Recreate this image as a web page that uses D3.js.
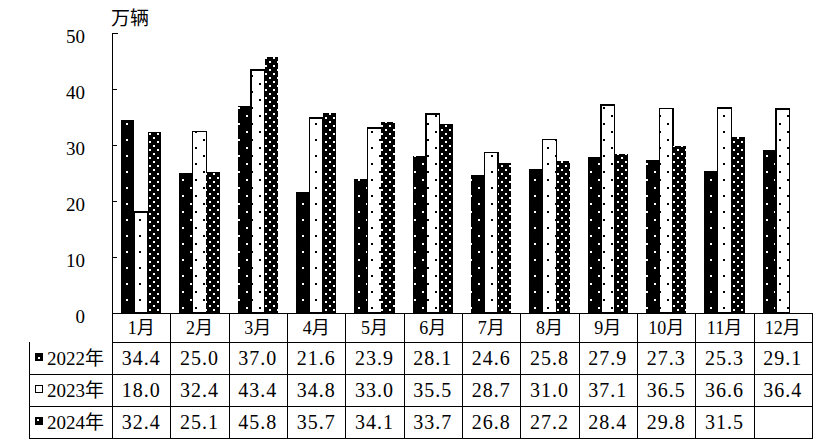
<!DOCTYPE html>
<html>
<head>
<meta charset="utf-8">
<script src="https://cdn.jsdelivr.net/npm/d3@7"></script>
<style>
  body { margin: 0; background: #fff; }
  text { font-family: "Liberation Serif", "Noto Sans CJK SC", serif; fill: #000; }
</style>
</head>
<body>
<svg id="chart" width="828" height="440"></svg>
<script>
// data
var months = ["1月","2月","3月","4月","5月","6月","7月","8月","9月","10月","11月","12月"];
var seriesNames = ["2022年","2023年","2024年"];
var v2022 = [34.4, 25.0, 37.0, 21.6, 23.9, 28.1, 24.6, 25.8, 27.9, 27.3, 25.3, 29.1];
var v2023 = [18.0, 32.4, 43.4, 34.8, 33.0, 35.5, 28.7, 31.0, 37.1, 36.5, 36.6, 36.4];
var v2024 = [32.4, 25.1, 45.8, 35.7, 34.1, 33.7, 26.8, 27.2, 28.4, 29.8, 31.5, null];
var yTicks = [0, 10, 20, 30, 40, 50];
var unitLabel = "万辆";

var allSeries = [v2022, v2023, v2024];

var svg = d3.select("#chart");

// layout
var plotLeft = 112, plotRight = 812, plotTop = 33, plotBase = 313;
var tableLeft = 29;
var rowLines = [313, 342, 374, 406, 438];

// patterns
var defs = svg.append("defs");

var p1 = defs.append("pattern").attr("id", "pat0")
    .attr("patternUnits", "userSpaceOnUse").attr("width", 16).attr("height", 16);
p1.append("rect").attr("width", 16).attr("height", 16).attr("fill", "#000");
p1.append("rect").attr("x", 6).attr("y", 3).attr("width", 2).attr("height", 2).attr("fill", "#fff");
p1.append("rect").attr("x", 14).attr("y", 11).attr("width", 2).attr("height", 2).attr("fill", "#fff");

var p2 = defs.append("pattern").attr("id", "pat1")
    .attr("patternUnits", "userSpaceOnUse").attr("width", 16).attr("height", 16);
p2.append("rect").attr("width", 16).attr("height", 16).attr("fill", "#fff");
p2.append("rect").attr("x", 3).attr("y", 3).attr("width", 2).attr("height", 2).attr("fill", "#000");
p2.append("rect").attr("x", 11).attr("y", 11).attr("width", 2).attr("height", 2).attr("fill", "#000");

var p3 = defs.append("pattern").attr("id", "pat2")
    .attr("patternUnits", "userSpaceOnUse").attr("width", 8).attr("height", 8);
p3.append("rect").attr("width", 8).attr("height", 8).attr("fill", "#000");
p3.append("rect").attr("x", 1).attr("y", 1).attr("width", 2).attr("height", 2).attr("fill", "#fff");
p3.append("rect").attr("x", 5).attr("y", 5).attr("width", 2).attr("height", 2).attr("fill", "#fff");

// scales
var x = d3.scaleBand()
    .domain(months)
    .range([plotLeft, plotRight])
    .padding(0);

var x1 = d3.scaleBand()
    .domain(seriesNames)
    .range([0, x.bandwidth()])
    .paddingInner(0)
    .paddingOuter(0.66);

var y = d3.scaleLinear()
    .domain([0, 50])
    .range([plotBase, plotTop]);

// bars
var groups = svg.append("g").selectAll("g")
    .data(allSeries)
    .enter().append("g");

groups.each(function(vals, si) {
    d3.select(this).selectAll("rect")
        .data(months.map(function(m, i) { return { m: m, v: vals[i] }; })
              .filter(function(d) { return d.v != null; }))
        .enter().append("rect")
            .attr("x", function(d) { return x(d.m) + x1(seriesNames[si]); })
            .attr("y", function(d) { return y(d.v); })
            .attr("width", x1.bandwidth())
            .attr("height", function(d) { return plotBase - y(d.v); })
            .attr("fill", "url(#pat" + si + ")")
            .attr("stroke", si == 1 ? "#000" : "none")
            .attr("stroke-width", 1.5)
            .attr("shape-rendering", "crispEdges");
});

// Y Axis
var yAxisCall = d3.axisRight(y)
    .tickValues(yTicks)
    .tickSize(5)
    .tickFormat("");
var yAxis = svg.append("g")
    .attr("transform", "translate(" + plotLeft + ",0)")
    .call(yAxisCall);
yAxis.select(".domain").attr("d", "M5.5," + plotTop + "H0.5V" + plotBase);
yAxis.selectAll("line").attr("stroke", "#000").attr("shape-rendering", "crispEdges");
yAxis.selectAll(".domain").attr("stroke", "#000").attr("shape-rendering", "crispEdges");

svg.append("g").selectAll("text")
    .data(yTicks)
    .enter().append("text")
        .attr("x", 85)
        .attr("y", function(d) { return y(d) + 10; })
        .attr("text-anchor", "end")
        .attr("font-size", "19px")
        .text(function(d) { return d; });

// unit label
svg.append("text")
    .attr("x", 111)
    .attr("y", 25)
    .attr("font-size", "19px")
    .text(unitLabel);

// table
var tbl = svg.append("g").attr("shape-rendering", "crispEdges");

// horizontal lines
tbl.selectAll("line.h")
    .data(rowLines)
    .enter().append("line")
        .attr("x1", function(d, i) { return i < 2 ? plotLeft : tableLeft; })
        .attr("x2", plotRight)
        .attr("y1", function(d) { return d + 0.5; })
        .attr("y2", function(d) { return d + 0.5; })
        .attr("stroke", "#000");

// vertical lines
var colEdges = months.map(function(m) { return x(m); }).concat([plotRight]);
tbl.selectAll("line.v")
    .data(colEdges)
    .enter().append("line")
        .attr("x1", function(d) { return Math.round(d) + 0.5; })
        .attr("x2", function(d) { return Math.round(d) + 0.5; })
        .attr("y1", plotBase)
        .attr("y2", rowLines[4] + 1)
        .attr("stroke", "#000");
tbl.append("line")
    .attr("x1", tableLeft + 0.5).attr("x2", tableLeft + 0.5)
    .attr("y1", rowLines[1]).attr("y2", rowLines[4] + 1)
    .attr("stroke", "#000");

// month labels
svg.append("g").selectAll("text")
    .data(months)
    .enter().append("text")
        .attr("x", function(d) { return x(d) + x.bandwidth() / 2; })
        .attr("y", 334)
        .attr("text-anchor", "middle")
        .attr("font-size", "18px")
        .text(function(d) { return d; });

// values
allSeries.forEach(function(vals, si) {
    var rowMid = (rowLines[si + 1] + rowLines[si + 2]) / 2;
    svg.append("g").selectAll("text")
        .data(months.map(function(m, i) { return { m: m, v: vals[i] }; })
              .filter(function(d) { return d.v != null; }))
        .enter().append("text")
            .attr("x", function(d) { return x(d.m) + x.bandwidth() / 2; })
            .attr("y", rowMid + 7)
            .attr("text-anchor", "middle")
            .attr("font-size", "20px")
            .attr("letter-spacing", "1px")
            .text(function(d) { return d.v.toFixed(1); });

    // legend marker
    svg.append("rect")
        .attr("x", 35.5).attr("y", rowMid - 4.5)
        .attr("width", 7).attr("height", 7)
        .attr("fill", si == 1 ? "#fff" : "#000")
        .attr("stroke", "#000")
        .attr("stroke-width", 1.2)
        .attr("shape-rendering", "crispEdges");
    if (si != 1) {
        svg.append("rect")
            .attr("x", si == 0 ? 38 : 37).attr("y", si == 0 ? rowMid - 1 : rowMid - 3)
            .attr("width", 2).attr("height", 2)
            .attr("fill", "#fff")
            .attr("shape-rendering", "crispEdges");
    }

    svg.append("text")
        .attr("x", 47)
        .attr("y", rowMid + 7)
        .attr("font-size", "19px")
        .text(seriesNames[si]);
});
</script>
</body>
</html>
